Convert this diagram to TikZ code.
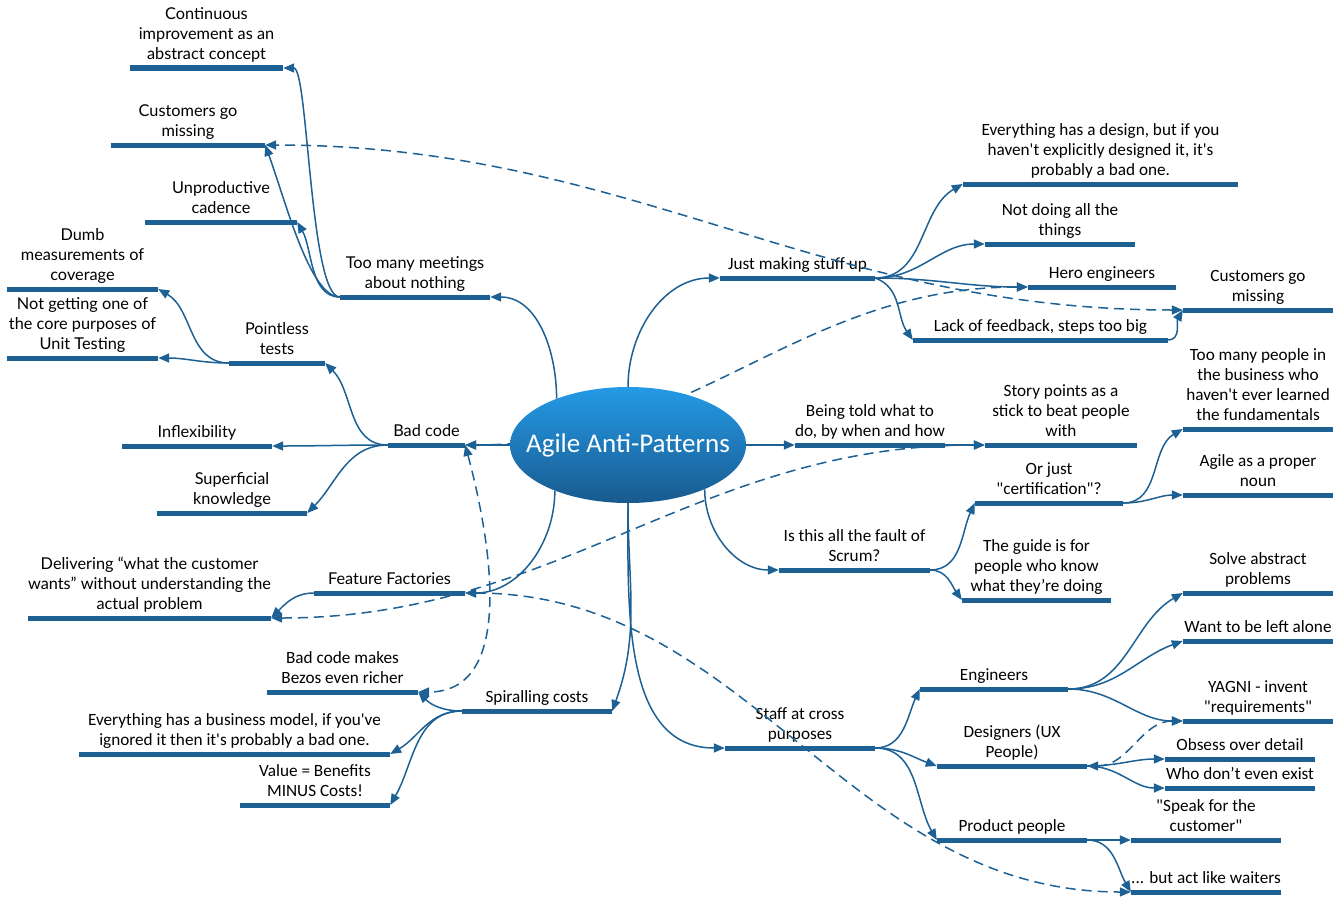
\documentclass[tikz,border=0pt]{standalone}
\usepackage{fontspec}
\newfontfamily\condfont{Carlito}
\newfontfamily\widefont{Lato}
\usetikzlibrary{arrows.meta,shapes.geometric}
\definecolor{mapblue}{RGB}{28,96,148}
\definecolor{rootlight}{RGB}{36,154,230}
\definecolor{rootdark}{RGB}{25,90,142}
\tikzset{
    topic/.style = {anchor=south, align=center, inner xsep=0pt, inner ysep=5pt, text depth=3pt,
        minimum width=#1, font=\condfont\fontsize{17.2}{20}\selectfont,
        append after command={(\tikzlastnode.south west) edge[bar] (\tikzlastnode.south east)}},
    wide/.style = {font=\widefont\fontsize{16.3}{20}\selectfont},
    bar/.style = {draw=mapblue, line width=5pt, -},
    link/.style = {draw=mapblue, line width=1.5pt, -{Triangle[length=11pt,width=9pt]}},
    cross/.style = {link, dash pattern=on 10pt off 6pt,
        {Triangle[length=11pt,width=9pt]}-{Triangle[length=11pt,width=9pt]}}
}
\begin{document}
\begin{tikzpicture}[x=1pt, y=1pt]
    \useasboundingbox (0,0) rectangle (1343,-899);

    % left side
    \node[topic=150pt, wide] (tmm) at (415,-297) {Too many meetings\\about nothing};
    \node[topic=153pt, wide] (ci) at (206.5,-68) {Continuous\\improvement as an\\abstract concept};
    \node[topic=154pt, wide] (cgml) at (188,-145) {Customers go\\missing};
    \node[topic=152pt, wide] (uc) at (221,-222) {Unproductive\\cadence};
    \node[topic=77pt, wide] (bad) at (426.5,-445) {Bad code};
    \node[topic=96pt, wide] (ptests) at (277,-363) {Pointless\\tests};
    \node[topic=151pt, wide] (dumb) at (82.5,-289) {Dumb\\measurements of\\coverage};
    \node[topic=151pt, wide] (notget) at (82.5,-358) {Not getting one of\\the core purposes of\\Unit Testing};
    \node[topic=150pt, wide] (infl) at (197,-446) {Inflexibility};
    \node[topic=150pt, wide] (superf) at (232,-513) {Superficial\\knowledge};
    \node[topic=151pt, wide] (ff) at (389.5,-593) {Feature Factories};
    \node[topic=241pt, wide] (deliv) at (149.5,-618) {Delivering “what the customer\\wants” without understanding the\\actual problem};
    \node[topic=150pt] (spiral) at (537,-711) {Spiralling costs};
    \node[topic=151pt] (bezos) at (342.5,-692) {Bad code makes\\Bezos even richer};
    \node[topic=311pt] (bizmodel) at (234.5,-754) {Everything has a business model, if you've\\ignored it then it's probably a bad one.};
    \node[topic=150pt] (value) at (315,-805) {Value = Benefits\\MINUS Costs!};

    % right side
    \node[topic=155pt] (jmsu) at (797.5,-278) {Just making stuff up};
    \node[topic=275pt] (design) at (1100.5,-184) {Everything has a design, but if you\\haven't explicitly designed it, it's\\probably a bad one.};
    \node[topic=150pt] (notdo) at (1060,-244) {Not doing all the\\things};
    \node[topic=148pt] (hero) at (1102,-287) {Hero engineers};
    \node[topic=255pt] (lof) at (1040.5,-340) {Lack of feedback, steps too big};
    \node[topic=150pt] (cgmr) at (1258,-310) {Customers go\\missing};
    \node[topic=150pt] (told) at (870,-445) {Being told what to\\do, by when and how};
    \node[topic=152pt] (story) at (1061,-445) {Story points as a\\stick to beat people\\with};
    \node[topic=151pt] (scrum) at (854.5,-570) {Is this all the fault of\\Scrum?};
    \node[topic=148pt] (orjust) at (1049,-503) {Or just\\"certification"?};
    \node[topic=149pt] (guide) at (1036.5,-600) {The guide is for\\people who know\\what they’re doing};
    \node[topic=150pt] (toomany) at (1258,-429) {Too many people in\\the business who\\haven't ever learned\\the fundamentals};
    \node[topic=150pt] (noun) at (1258,-495) {Agile as a proper\\noun};
    \node[topic=150pt] (staff) at (800,-748) {Staff at cross\\purposes};
    \node[topic=148pt] (eng) at (994,-689) {Engineers};
    \node[topic=150pt] (des) at (1012,-766) {Designers (UX\\People)};
    \node[topic=150pt] (prod) at (1012,-840) {Product people};
    \node[topic=150pt] (solve) at (1258,-593) {Solve abstract\\problems};
    \node[topic=150pt] (alone) at (1258,-641) {Want to be left alone};
    \node[topic=150pt] (yagni) at (1258,-721) {YAGNI - invent\\"requirements"};
    \node[topic=150pt] (obsess) at (1240,-759) {Obsess over detail};
    \node[topic=150pt] (exist) at (1240,-788) {Who don’t even exist};
    \node[topic=150pt] (speak) at (1206,-840) {"Speak for the\\customer"};
    \node[topic=150pt] (waiters) at (1206,-892) {... but act like waiters};

    % runs behind the centre
    \draw[cross] (hero.south west) to[out=180, in=0] (bad.south east);

    \node[ellipse, minimum width=236pt, minimum height=116pt, inner sep=0pt,
        top color=rootlight, bottom color=rootdark, text=white,
        font=\condfont\fontsize{27}{30}\selectfont] (root) at (628,-445) {\makebox[0pt]{Agile Anti-Patterns}};

    % from the centre
    \draw[link] (root.147) to[out=90, in=0] (tmm.south east);
    \draw[link] (root.north) to[out=90, in=180] (jmsu.south west);
    \draw[link] (root.west) -- (bad.south east);
    \draw[link] (root.east) -- (told.south west);
    \draw[link] (root.330) to[out=-90, in=180] (scrum.south west);
    \draw[link] (root.south) to[out=-90, in=180] (staff.south west);
    \draw[link] (root.south) to[out=-90, in=70] (spiral.south east);
    \draw[link] (root.212) to[out=-90, in=0] (ff.south east);

    % left branches
    \draw[link] (tmm.south west) to[out=180, in=0, out distance=30pt, in distance=25pt] (ci.south east);
    \draw[link] (tmm.south west) to[out=180, in=-70, out distance=30pt, in distance=60pt] (cgml.south east);
    \draw[link] (tmm.south west) to[out=180, in=-60, out distance=30pt, in distance=30pt] (uc.south east);
    \draw[link] (bad.south west) to[out=180, in=-45] (ptests.south east);
    \draw[link] (bad.south west) to[out=180, in=0] (infl.south east);
    \draw[link] (bad.south west) to[out=180, in=45] (superf.south east);
    \draw[link] (ptests.south west) to[out=180, in=-30] (dumb.south east);
    \draw[link] (ptests.south west) to[out=180, in=0] (notget.south east);
    \draw[link] (ff.south west) to[out=180, in=45] (deliv.south east);
    \draw[link] (spiral.south west) to[out=180, in=-45] (bezos.south east);
    \draw[link] (spiral.south west) to[out=180, in=30] (bizmodel.south east);
    \draw[link] (spiral.south west) to[out=180, in=60] (value.south east);

    % right branches
    \draw[link] (jmsu.south east) to[out=0, in=-150] (design.south west);
    \draw[link] (jmsu.south east) to[out=0, in=180] (notdo.south west);
    \draw[link] (jmsu.south east) to[out=0, in=180] (hero.south west);
    \draw[link] (jmsu.south east) to[out=-20, in=125] (lof.south west);
    \draw[link] (lof.south east) to[out=0, in=-120] (cgmr.south west);
    \draw[link] (told.south east) -- (story.south west);
    \draw[link] (scrum.south east) to[out=0, in=-115] (orjust.south west);
    \draw[link] (scrum.south east) to[out=0, in=125] (guide.south west);
    \draw[link] (orjust.south east) to[out=0, in=-150] (toomany.south west);
    \draw[link] (orjust.south east) to[out=0, in=180] (noun.south west);
    \draw[link] (staff.south east) to[out=0, in=-115] (eng.south west);
    \draw[link] (staff.south east) to[out=0, in=160] (des.south west);
    \draw[link] (staff.south east) to[out=0, in=120] (prod.south west);
    \draw[link] (eng.south east) to[out=0, in=-150] (solve.south west);
    \draw[link] (eng.south east) to[out=0, in=-160] (alone.south west);
    \draw[link] (eng.south east) to[out=0, in=180] (yagni.south west);
    \draw[link] (des.south east) to[out=0, in=180] (obsess.south west);
    \draw[link] (des.south east) to[out=0, in=180] (exist.south west);
    \draw[link] (prod.south east) -- (speak.south west);
    \draw[link] (prod.south east) to[out=0, in=120] (waiters.south west);

    % cross links
    \draw[cross] (cgmr.south west) to[out=180, in=0] (cgml.south east);
    \draw[cross] (bad.south east) to[out=-75, in=0] (bezos.south east);
    \draw[cross] (deliv.south east) to[out=0, in=180] (story.south west);
    \draw[cross] (ff.south east) to[out=0, in=180] (waiters.south west);
    \draw[cross] (yagni.south west) to[out=180, in=0] (des.south east);
\end{tikzpicture}
\end{document}
